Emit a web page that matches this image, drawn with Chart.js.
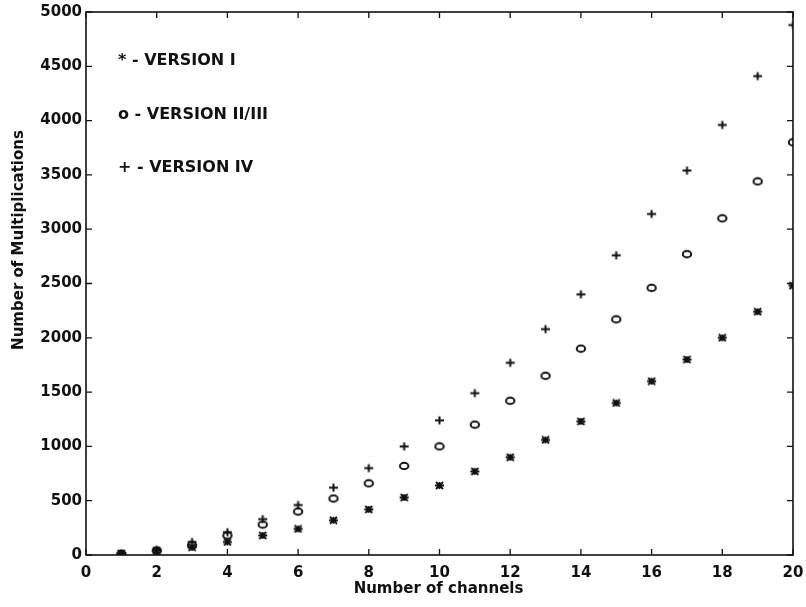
<!DOCTYPE html>
<html>
<head>
<meta charset="utf-8">
<script src="https://cdn.jsdelivr.net/npm/chart.js@4.4.1/dist/chart.umd.min.js"></script>
<style>
  html, body { margin: 0; padding: 0; background: #fff; }
  #wrap { width: 806px; height: 607px; position: relative; }
</style>
</head>
<body>
<div id="wrap"><canvas id="chart"></canvas></div>
<script>
// number of channels on the x axis
var channels = [1, 2, 3, 4, 5, 6, 7, 8, 9, 10, 11, 12, 13, 14, 15, 16, 17, 18, 19, 20];

// multiplications per version
var version1  = [15, 40, 70, 120, 180, 240, 320, 420, 530, 640, 770, 900, 1060, 1230, 1400, 1600, 1800, 2000, 2240, 2480];
var version23 = [10, 40, 90, 180, 280, 400, 520, 660, 820, 1000, 1200, 1420, 1650, 1900, 2170, 2460, 2770, 3100, 3440, 3800];
var version4  = [15, 50, 120, 210, 330, 460, 620, 800, 1000, 1240, 1490, 1770, 2080, 2400, 2760, 3140, 3540, 3960, 4410, 4880];

var seriesNames = ['VERSION I', 'VERSION II/III', 'VERSION IV'];
var seriesSymbols = ['*', 'o', '+'];

var xTicks = [0, 2, 4, 6, 8, 10, 12, 14, 16, 18, 20];
var yTicks = [0, 500, 1000, 1500, 2000, 2500, 3000, 3500, 4000, 4500, 5000];

var xTitle = 'Number of channels';
var yTitle = 'Number of Multiplications';

function toPoints(ys) {
  return channels.map(function (c, i) { return { x: c, y: ys[i] }; });
}

var INK = '#111';

// small bitmaps for the three marker shapes
function marker(w, h, draw) {
  var c = document.createElement('canvas');
  c.width = w; c.height = h;
  var g = c.getContext('2d');
  g.strokeStyle = INK;
  g.lineCap = 'butt';
  draw(g);
  return c;
}

var starMark = marker(11, 9, function (g) {
  g.lineWidth = 1.8;
  g.beginPath();
  g.moveTo(1, 4.5); g.lineTo(10, 4.5);
  g.moveTo(2, 1); g.lineTo(9, 8);
  g.moveTo(2, 8); g.lineTo(9, 1);
  g.moveTo(5.5, 1); g.lineTo(5.5, 8);
  g.stroke();
});

var ovalMark = marker(12, 10, function (g) {
  g.lineWidth = 2;
  g.beginPath();
  g.ellipse(6, 5, 4.2, 3.2, 0, 0, Math.PI * 2);
  g.stroke();
});

var plusMark = marker(11, 11, function (g) {
  g.lineWidth = 2;
  g.beginPath();
  g.moveTo(1, 5.5); g.lineTo(10, 5.5);
  g.moveTo(5.5, 1.5); g.lineTo(5.5, 9.5);
  g.stroke();
});

// box around the plot with inward tick marks on all four sides, plus axis titles
var framePlugin = {
  id: 'frame',
  afterDraw: function (chart) {
    var ctx = chart.ctx, a = chart.chartArea;
    var xs = chart.scales.x, ys = chart.scales.y;
    ctx.save();
    ctx.strokeStyle = INK;
    ctx.lineWidth = 1.6;
    ctx.strokeRect(a.left, a.top, a.right - a.left, a.bottom - a.top);
    ctx.lineWidth = 1.3;
    ctx.beginPath();
    xTicks.forEach(function (v) {
      var px = xs.getPixelForValue(v);
      ctx.moveTo(px, a.bottom); ctx.lineTo(px, a.bottom - 6);
      ctx.moveTo(px, a.top); ctx.lineTo(px, a.top + 6);
    });
    yTicks.forEach(function (v) {
      var py = ys.getPixelForValue(v);
      ctx.moveTo(a.left, py); ctx.lineTo(a.left + 6, py);
      ctx.moveTo(a.right, py); ctx.lineTo(a.right - 6, py);
    });
    ctx.stroke();

    ctx.fillStyle = INK;
    ctx.font = 'bold 15px "DejaVu Sans"';
    ctx.textAlign = 'center';
    ctx.textBaseline = 'middle';
    ctx.fillText(xTitle, xs.getPixelForValue(10) - 1, 589);
    ctx.translate(19, 240);
    ctx.rotate(-Math.PI / 2);
    ctx.fillText(yTitle, 0, 0);
    ctx.restore();
  }
};

// key written as plain text inside the plot, top left
var keyPlugin = {
  id: 'textKey',
  afterDraw: function (chart) {
    var ctx = chart.ctx, a = chart.chartArea;
    ctx.save();
    ctx.fillStyle = INK;
    ctx.font = 'bold 16px "DejaVu Sans"';
    ctx.textBaseline = 'middle';
    seriesNames.forEach(function (name, i) {
      ctx.fillText(seriesSymbols[i] + ' - ' + name, a.left + 32, a.top + 49 + i * 53.5);
    });
    ctx.restore();
  }
};

var tickFont = { family: 'DejaVu Sans', size: 15, weight: 'bold' };
var plainLabel = function (v) { return String(v); };

new Chart(document.getElementById('chart'), {
  type: 'scatter',
  data: {
    datasets: [
      { label: seriesNames[0], data: toPoints(version1), pointStyle: starMark },
      { label: seriesNames[1], data: toPoints(version23), pointStyle: ovalMark },
      { label: seriesNames[2], data: toPoints(version4), pointStyle: plusMark }
    ]
  },
  options: {
    responsive: true,
    maintainAspectRatio: false,
    animation: false,
    layout: { padding: { top: 12, right: 13, left: 0, bottom: 0 } },
    plugins: {
      legend: { display: false },
      tooltip: { enabled: false }
    },
    scales: {
      x: {
        type: 'linear',
        min: 0,
        max: 20,
        afterBuildTicks: function (s) { s.ticks = xTicks.map(function (v) { return { value: v }; }); },
        afterFit: function (s) { s.height = 52; s.paddingLeft = 0; s.paddingRight = 0; },
        grid: { display: false, drawTicks: false },
        border: { display: false },
        ticks: { color: INK, font: tickFont, padding: 9, maxRotation: 0, callback: plainLabel }
      },
      y: {
        type: 'linear',
        min: 0,
        max: 5000,
        afterBuildTicks: function (s) { s.ticks = yTicks.map(function (v) { return { value: v }; }); },
        afterFit: function (s) { s.width = 86; s.paddingTop = 0; s.paddingBottom = 0; },
        grid: { display: false, drawTicks: false },
        border: { display: false },
        ticks: { color: INK, font: tickFont, padding: 4, callback: plainLabel }
      }
    }
  },
  plugins: [framePlugin, keyPlugin]
});
</script>
</body>
</html>
